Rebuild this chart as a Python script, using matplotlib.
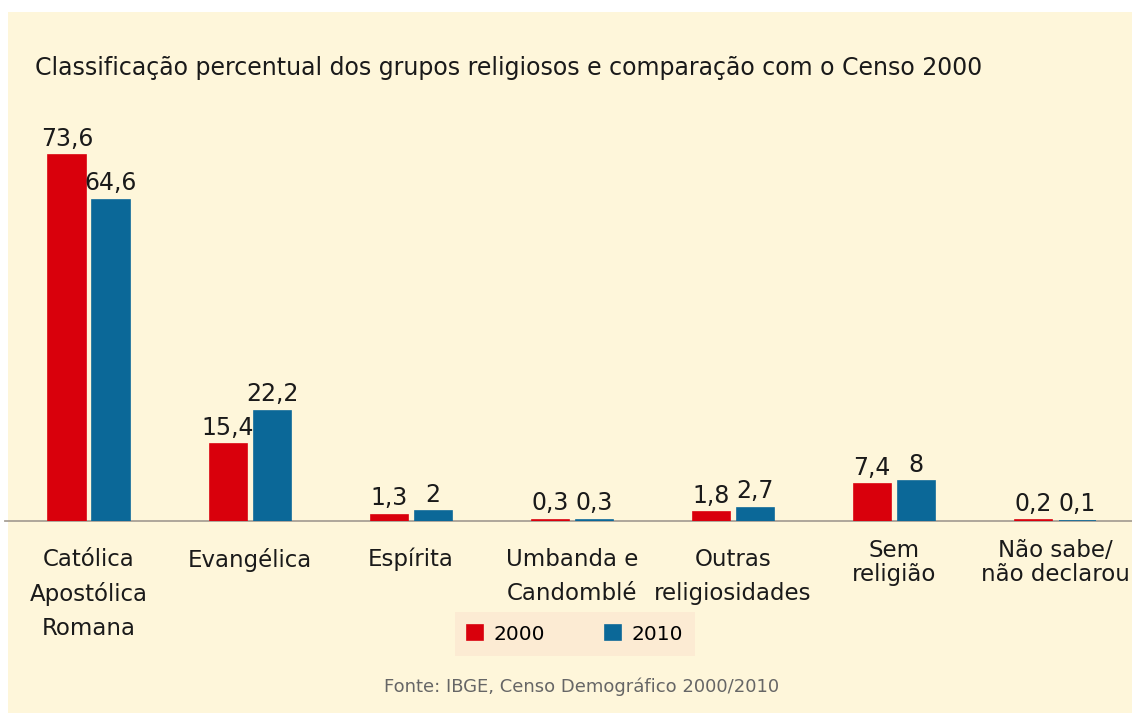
import numpy as np
import matplotlib.pyplot as plt
from matplotlib.patches import Rectangle

categorias = ['Católica\nApostólica\nRomana', 'Evangélica', 'Espírita', 'Umbanda e\nCandomblé',
              'Outras\nreligiosidades', 'Sem\nreligião', 'Não sabe/\nnão declarou']
v2000 = [73.6, 15.4, 1.3, 0.3, 1.8, 7.4, 0.2]
v2010 = [64.6, 22.2, 2.0, 0.3, 2.7, 8.0, 0.1]
rot2000 = ['73,6', '15,4', '1,3', '0,3', '1,8', '7,4', '0,2']
rot2010 = ['64,6', '22,2', '2', '0,3', '2,7', '8', '0,1']

vermelho = '#d9000c'
azul = '#0b6898'
plt.rcParams['font.family'] = ['DejaVu Sans']

W, H = 1132, 713
fig = plt.figure(figsize=(W / 100, H / 100), dpi=100, facecolor='white')
fig.patches.append(Rectangle((8 / W, 0), 1, 1 - 12 / H, transform=fig.transFigure,
                             facecolor='#fef6da', edgecolor='none', zorder=-10))

# baseline em y=521 px, 4.97 px por unidade, grupos a cada 161 px
base_px, top_px = 521, 105
ax = fig.add_axes([5 / W, (H - base_px) / H, 1 - 5 / W, (base_px - top_px) / H])
ax.patch.set_visible(False)
ax.set_ylim(0, (base_px - top_px) / 4.97)
ax.set_xlim((5 - 89) / 161, (W - 89) / 161)

x = np.arange(len(categorias))
larg = 37 / 161
desl = 22 / 161
b1 = ax.bar(x - desl, v2000, larg, color=vermelho, edgecolor=vermelho, linewidth=1.2,
            label='2000', zorder=3)
b2 = ax.bar(x + desl, v2010, larg, color=azul, edgecolor=azul, linewidth=1.2,
            label='2010', zorder=3)

for xi, v, t in zip(x - desl, v2000, rot2000):
    ax.text(xi, v + 0.9, t, ha='center', va='bottom', fontsize=17, color='#1a1a1a', clip_on=False)
for xi, v, t in zip(x + desl, v2010, rot2010):
    ax.text(xi, v + 0.9, t, ha='center', va='bottom', fontsize=17, color='#1a1a1a', clip_on=False)

for s in ['top', 'left', 'right']:
    ax.spines[s].set_visible(False)
ax.spines['bottom'].set_color('#a8a096')
ax.spines['bottom'].set_linewidth(1.3)
ax.spines['bottom'].set_zorder(1)
ax.set_yticks([])
ax.set_xticks([])

for i, c in enumerate(categorias):
    if i >= 5:
        ax.text(i, -3.6, c, ha='center', va='top', fontsize=16.5, color='#1a1a1a',
                linespacing=1.05, clip_on=False)
    else:
        ax.text(i, -5.4, c, ha='center', va='top', fontsize=16.5, color='#1a1a1a',
                linespacing=1.6, clip_on=False)

fig.text(35 / W, 1 - 68 / H, 'Classificação percentual dos grupos religiosos e comparação com o Censo 2000',
         ha='left', va='center', fontsize=17, color='#1a1a1a')

leg = fig.legend(handles=[b1, b2], loc='center', bbox_to_anchor=(575 / W, 1 - 634 / H), ncol=2,
                 fontsize=14.5, frameon=True, facecolor='#fcebd3', edgecolor='none', fancybox=False,
                 handlelength=0.8, handleheight=0.8, columnspacing=3.0, borderpad=0.6,
                 handletextpad=0.5, borderaxespad=0)
leg.get_frame().set_alpha(1)

fig.text(582 / W, 1 - 687 / H, 'Fonte: IBGE, Censo Demográfico 2000/2010', ha='center', va='center',
         fontsize=13, color='#666666')

fig.savefig('out.png', dpi=100, facecolor='white')
